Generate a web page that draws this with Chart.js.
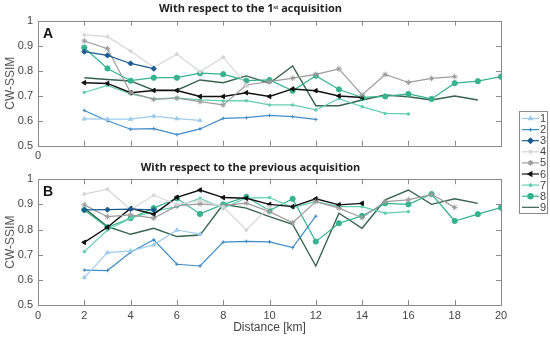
<!DOCTYPE html>
<html>
<head>
<meta charset="utf-8">
<script src="https://cdn.jsdelivr.net/npm/chart.js@4"></script>
<style>
  body { margin: 0; background: #fff; }
  #wrap { position: relative; width: 550px; height: 337px; }
  canvas { position: absolute; left: 0; }
</style>
</head>
<body>
<div id="wrap">
  <canvas id="chartA" width="550" height="165" style="top:0"></canvas>
  <canvas id="chartB" width="550" height="177" style="top:160px"></canvas>
  <canvas id="legend" width="29" height="103" style="left:519px;top:111px"></canvas>
</div>
<script>
// distances (km), one value per distance for each acquisition
const distances = [2, 3, 4, 5, 6, 7, 8, 9, 10, 11, 12, 13, 14, 15, 16, 17, 18, 19, 20];
const seriesNames = ['1', '2', '3', '4', '5', '6', '7', '8', '9'];
const seriesColors = ['#9ecbe8', '#3f8dc6', '#1c5b8f', '#d6d6d6', '#9c9c9c', '#111111', '#62cdb2', '#35b38f', '#35634d'];
const yTicks = [0.5, 0.6, 0.7, 0.8, 0.9, 1];

// panel A: with respect to the 1st acquisition
const a1 = [0.607, 0.606, 0.606, 0.618, 0.608, 0.601];
const a2 = [0.641, 0.600, 0.566, 0.568, 0.544, 0.567, 0.609, 0.612, 0.621, 0.616, 0.605];
const a3 = [0.876, 0.861, 0.829, 0.808];
const a4 = [0.943, 0.936, 0.879, 0.814, 0.866, 0.796, 0.854, 0.743];
const a5 = [0.919, 0.888, 0.712, 0.685, 0.690, 0.676, 0.663, 0.743, 0.756, 0.770, 0.785, 0.807, 0.703, 0.785, 0.753, 0.769, 0.776];
const a6 = [0.752, 0.749, 0.712, 0.721, 0.721, 0.697, 0.697, 0.712, 0.697, 0.727, 0.720, 0.699, 0.693];
const a7 = [0.713, 0.741, 0.707, 0.687, 0.691, 0.683, 0.679, 0.680, 0.663, 0.663, 0.643, 0.688, 0.656, 0.629, 0.627];
const a8 = [0.892, 0.809, 0.760, 0.772, 0.772, 0.790, 0.786, 0.760, 0.763, 0.720, 0.780, 0.725, 0.693, 0.697, 0.707, 0.687, 0.750, 0.758, 0.776];
const a9 = [0.772, 0.765, 0.759, 0.722, 0.722, 0.763, 0.752, 0.779, 0.750, 0.819, 0.660, 0.660, 0.683, 0.703, 0.696, 0.683, 0.699, 0.683];

// panel B: with respect to the previous acquisition
const b1 = [0.609, 0.708, 0.715, 0.739, 0.798, 0.782];
const b2 = [0.639, 0.637, 0.710, 0.759, 0.662, 0.655, 0.750, 0.753, 0.751, 0.728, 0.853];
const b3 = [0.878, 0.879, 0.881, 0.878];
const b4 = [0.941, 0.960, 0.880, 0.936, 0.900, 0.915, 0.890, 0.798, 0.890];
const b5 = [0.898, 0.851, 0.858, 0.845, 0.894, 0.902, 0.895, 0.905, 0.871, 0.827, 0.911, 0.885, 0.847, 0.911, 0.918, 0.940, 0.888];
const b6 = [0.749, 0.809, 0.884, 0.861, 0.928, 0.957, 0.927, 0.924, 0.900, 0.891, 0.922, 0.898, 0.904];
const b7 = [0.712, 0.798, 0.845, 0.872, 0.891, 0.924, 0.885, 0.925, 0.927, 0.887, 0.911, 0.891, 0.891, 0.865, 0.871];
const b8 = [0.878, 0.809, 0.845, 0.885, 0.924, 0.862, 0.900, 0.930, 0.875, 0.922, 0.752, 0.825, 0.854, 0.904, 0.900, 0.941, 0.834, 0.861, 0.887];
const b9 = [0.885, 0.812, 0.781, 0.805, 0.772, 0.778, 0.900, 0.885, 0.851, 0.821, 0.655, 0.865, 0.805, 0.918, 0.957, 0.900, 0.922, 0.904];

const markers = [
    { style: 'triangle', r: 2.3, rot: 0 },
    { style: 'cross', r: 1.8, rot: 0 },
    { style: 'rectRot', r: 2.6, rot: 0 },
    { style: 'circle', r: 1.5, rot: 0 },
    { style: 'star', r: 2.8, rot: 0 },
    { style: 'triangle', r: 2.6, rot: -90 },
    { style: 'circle', r: 1.3, rot: 0 },
    { style: 'circle', r: 2.6, rot: 0 },
    { style: 'circle', r: 0, rot: 0 }
];

function makeDatasets(list) {
    return list.map((vals, i) => ({
        label: seriesNames[i],
        data: vals.map((v, j) => ({ x: distances[j], y: v })),
        borderColor: seriesColors[i],
        backgroundColor: seriesColors[i],
        borderWidth: i == 5 || i == 8 ? 1.4 : 1.2,
        pointStyle: markers[i].style,
        pointRadius: markers[i].r,
        pointRotation: markers[i].rot,
        pointBorderWidth: 1,
        tension: 0
    }));
}

// matlab style box with inward ticks plus the panel letter
const boxPlugin = {
    id: 'box',
    afterDraw(chart, args, opts) {
        const ctx = chart.ctx;
        const a = chart.chartArea;
        const xs = chart.scales.x, ys = chart.scales.y;
        ctx.save();
        ctx.strokeStyle = '#8a8a8a';
        ctx.lineWidth = 1;
        ctx.strokeRect(Math.round(a.left) + 0.5, Math.round(a.top) + 0.5, Math.round(a.right - a.left), Math.round(a.bottom - a.top));
        ctx.beginPath();
        for (let v = 2; v < 20; v += 2) {
            const px = Math.round(xs.getPixelForValue(v)) + 0.5;
            ctx.moveTo(px, a.bottom); ctx.lineTo(px, a.bottom - 5);
            ctx.moveTo(px, a.top); ctx.lineTo(px, a.top + 5);
        }
        yTicks.slice(1, -1).forEach(v => {
            const py = Math.round(ys.getPixelForValue(v)) + 0.5;
            ctx.moveTo(a.left, py); ctx.lineTo(a.left + 5, py);
            ctx.moveTo(a.right, py); ctx.lineTo(a.right - 5, py);
        });
        ctx.stroke();
        ctx.fillStyle = '#111';
        ctx.font = 'bold 14px "Liberation Sans"';
        ctx.textBaseline = 'middle';
        ctx.fillText(opts.letter, a.left + 5, a.top + 13);
        ctx.restore();
    }
};

function makeChart(id, list, titleText, letter, bottom) {
    return new Chart(document.getElementById(id), {
        type: 'line',
        data: { datasets: makeDatasets(list) },
        plugins: [boxPlugin],
        options: {
            responsive: false,
            animation: false,
            layout: { padding: { left: 0, right: 49, top: 0, bottom: 0 } },
            plugins: {
                legend: { display: false },
                tooltip: { enabled: false },
                title: {
                    display: true,
                    text: titleText,
                    color: '#222',
                    font: { family: 'Open Sans', size: 11, weight: 'bold', lineHeight: 1.2 },
                    padding: bottom ? { top: 1, bottom: 5 } : { top: 2, bottom: 5.5 }
                },
                box: { letter: letter }
            },
            scales: {
                x: {
                    type: 'linear', min: 0, max: 20,
                    afterFit: s => { s.height = bottom ? 32 : 19.3; },
                    grid: { display: false, drawTicks: false },
                    border: { display: false },
                    ticks: {
                        stepSize: 2, padding: 4, maxRotation: 0, color: '#444',
                        font: { family: 'Liberation Sans', size: 11 },
                        callback: v => (bottom || v === 0) ? String(v) : ''
                    },
                    title: {
                        display: bottom, text: 'Distance [km]', color: '#444',
                        font: { family: 'Liberation Sans', size: 12 },
                        padding: { top: 0, bottom: 1.8 }
                    }
                },
                y: {
                    min: 0.5, max: 1,
                    afterFit: s => { s.width = 38; },
                    afterBuildTicks: s => { s.ticks = yTicks.map(v => ({ value: v })); },
                    grid: { display: false, drawTicks: false },
                    border: { display: false },
                    ticks: {
                        padding: 5, color: '#444',
                        font: { family: 'Liberation Sans', size: 11 },
                        callback: v => String(+v.toFixed(1))
                    },
                    title: {
                        display: true, text: 'CW-SSIM', color: '#555',
                        font: { family: 'Liberation Sans', size: 12 },
                        padding: { top: 3.8, bottom: 0 }
                    }
                }
            }
        }
    });
}

makeChart('chartA', [a1, a2, a3, a4, a5, a6, a7, a8, a9], 'With respect to the 1ˢᵗ acquisition', 'A', false);
makeChart('chartB', [b1, b2, b3, b4, b5, b6, b7, b8, b9], 'With respect to the previous acquisition', 'B', true);

// legend box between the two panels
(function drawLegend() {
    const ctx = document.getElementById('legend').getContext('2d');
    ctx.fillStyle = '#fff';
    ctx.fillRect(0, 0, 29, 103);
    ctx.strokeStyle = '#8a8a8a';
    ctx.strokeRect(0.5, 0.5, 28, 102);
    ctx.font = '11px "Liberation Sans"';
    ctx.textBaseline = 'middle';
    seriesNames.forEach((name, i) => {
        const y = 7.5 + i * 11.1;
        ctx.strokeStyle = seriesColors[i];
        ctx.lineWidth = 1.2;
        ctx.beginPath(); ctx.moveTo(3, y); ctx.lineTo(20, y); ctx.stroke();
        if (markers[i].r > 0) {
            ctx.fillStyle = seriesColors[i];
            Chart.helpers.drawPoint(ctx, {
                pointStyle: markers[i].style, radius: markers[i].r,
                rotation: markers[i].rot, borderWidth: 1
            }, 11.5, y);
        }
        ctx.fillStyle = '#444';
        ctx.fillText(name, 21, y + 0.5);
    });
})();
</script>
</body>
</html>
